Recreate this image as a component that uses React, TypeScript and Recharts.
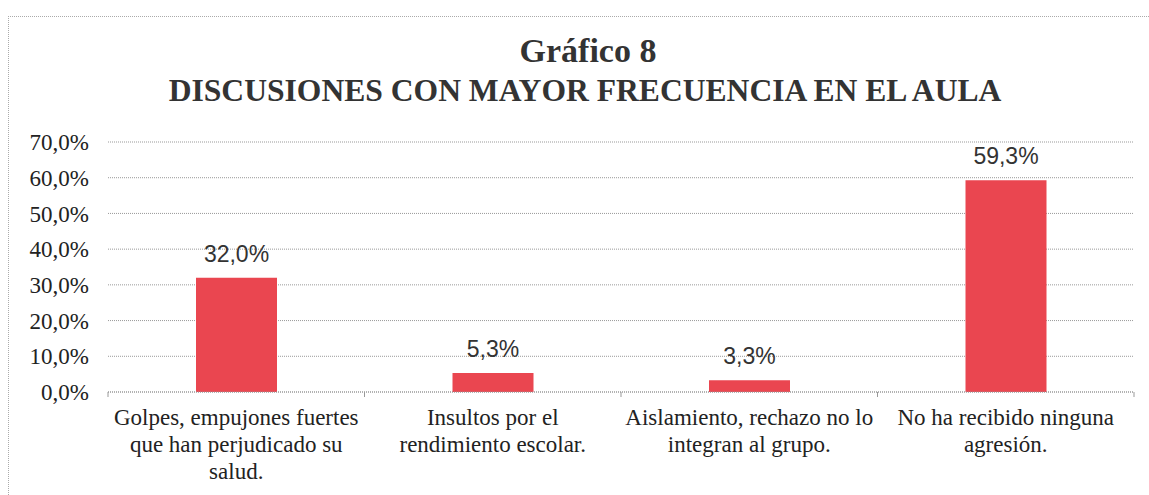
import React from 'react';
import { BarChart, Bar, XAxis, YAxis, CartesianGrid, LabelList } from 'recharts';

const categories = [
  'Golpes, empujones fuertes que han perjudicado su salud.',
  'Insultos por el rendimiento escolar.',
  'Aislamiento, rechazo no lo integran al grupo.',
  'No ha recibido ninguna agresión.',
];
const categoryLines = [
  ['Golpes, empujones fuertes', 'que han perjudicado su', 'salud.'],
  ['Insultos por el', 'rendimiento escolar.'],
  ['Aislamiento, rechazo no lo', 'integran al grupo.'],
  ['No ha recibido ninguna', 'agresión.'],
];
const values = [32.0, 5.3, 3.3, 59.3];
const yTicks = [0, 10, 20, 30, 40, 50, 60, 70];
const titleLine1 = 'Gráfico 8';
const titleLine2 = 'DISCUSIONES CON MAYOR FRECUENCIA EN EL AULA';

const data = categories.map((c, i) => ({ name: c, value: values[i], idx: i }));

const W = 1149;
const H = 495;
const MARGIN = { top: 142, right: 15, bottom: 13, left: 0 };
const Y_AXIS_W = 108;
const PLOT_W = W - MARGIN.left - MARGIN.right - Y_AXIS_W;
const SERIF = '"Liberation Serif", "Times New Roman", serif';
const SANS = '"Liberation Sans", Arial, sans-serif';

const fmt = (v: number) => `${v.toFixed(1).replace('.', ',')}%`;

const CategoryTick = (props: any) => {
  const { x, y, payload, index } = props;
  const band = PLOT_W / categories.length;
  const i = categories.indexOf(payload.value);
  const lines = categoryLines[i >= 0 ? i : index] || [String(payload.value)];
  const isLast = i === categories.length - 1;
  return (
    <g>
      <line x1={x - band / 2} x2={x - band / 2} y1={y} y2={y + 5} stroke="#999" strokeWidth={1} />
      {isLast && <line x1={x + band / 2} x2={x + band / 2} y1={y} y2={y + 5} stroke="#999" strokeWidth={1} />}
      <text x={x} y={y} textAnchor="middle" fontFamily={SERIF} fontSize={23} fill="#222">
        {lines.map((l: string, k: number) => (
          <tspan key={k} x={x} y={y + 33 + k * 27}>{l}</tspan>
        ))}
      </text>
    </g>
  );
};

export default function App() {
  return (
    <div style={{ position: 'absolute', left: 0, top: 0, width: W, height: H, background: '#fff', overflow: 'hidden' }}>
      <svg width={W} height={H} style={{ position: 'absolute', left: 0, top: 0 }}>
        <line x1={8} x2={W} y1={16.5} y2={16.5} stroke="#aaa" strokeDasharray="1 1" />
        <line x1={8.5} x2={8.5} y1={16} y2={H} stroke="#aaa" strokeDasharray="1 1" />
        <text x={588} y={62} textAnchor="middle" fontFamily={SERIF} fontWeight="bold" fontSize={34} fill="#333">{titleLine1}</text>
        <text x={585} y={101} textAnchor="middle" fontFamily={SERIF} fontWeight="bold" fontSize={31.6} fill="#333">{titleLine2}</text>
      </svg>
      <div style={{ position: 'absolute', left: 0, top: 0 }}>
        <BarChart width={W} height={H} data={data} margin={MARGIN}>
          <CartesianGrid vertical={false} stroke="#999" strokeDasharray="1 1" />
          <XAxis
            dataKey="name"
            type="category"
            height={90}
            interval={0}
            tickSize={0}
            tickMargin={0}
            tickLine={false}
            axisLine={{ stroke: '#999', strokeDasharray: '1 1' }}
            tick={<CategoryTick />}
          />
          <YAxis
            type="number"
            width={Y_AXIS_W}
            domain={[0, 70]}
            ticks={yTicks}
            interval={0}
            axisLine={false}
            tickLine={false}
            tickMargin={13}
            tickFormatter={fmt}
            tick={{ fontFamily: SERIF, fontSize: 23, fill: '#222' }}
          />
          <Bar dataKey="value" fill="#EA4650" barSize={81} isAnimationActive={false}>
            <LabelList
              dataKey="value"
              position="top"
              offset={16}
              formatter={(v: any) => fmt(Number(v))}
              style={{ fontFamily: SANS, fontSize: 23, fill: '#333' }}
            />
          </Bar>
        </BarChart>
      </div>
    </div>
  );
}
